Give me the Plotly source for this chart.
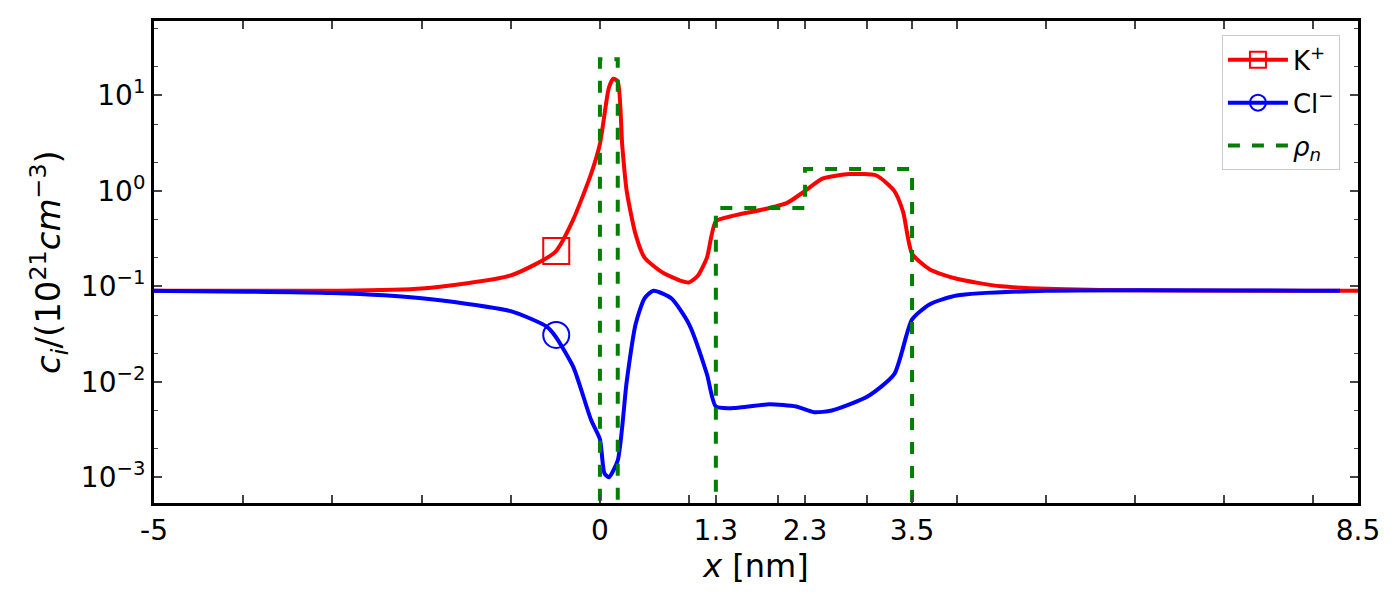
import plotly.graph_objects as go

k_x = [-5,-3,-2,-1,-0.5,-0.3,-0.1,0,0.1,0.15,0.2,0.25,0.3,0.4,0.5,0.7,0.9,1.0,1.1,1.2,1.3,1.5,1.8,2.1,2.3,2.5,2.8,3.1,3.3,3.4,3.5,3.7,4.0,4.5,5.5,8.5]
k_y = [0.09,0.09,0.095,0.13,0.23,0.5,1.5,3.1,12,15,14,3,1,0.35,0.2,0.14,0.115,0.11,0.13,0.2,0.48,0.55,0.63,0.75,1.0,1.35,1.5,1.45,1.0,0.6,0.22,0.15,0.12,0.1,0.092,0.09]
cl_x = [-5,-3,-2,-1,-0.6,-0.5,-0.3,-0.1,0,0.05,0.1,0.2,0.3,0.4,0.5,0.6,0.8,1.0,1.2,1.3,1.5,1.9,2.2,2.4,2.6,3.0,3.3,3.5,3.7,4.0,5,8.3]
cl_y = [0.09,0.085,0.075,0.055,0.038,0.03,0.0144,0.004,0.0025,0.0011,0.001,0.0015,0.01,0.04,0.075,0.09,0.075,0.04,0.012,0.0055,0.0053,0.0058,0.0055,0.0048,0.005,0.007,0.012,0.045,0.065,0.08,0.09,0.09]
rho_x = [0,0,0.2,0.2,1.3,1.3,2.3,2.3,3.5,3.5]
rho_y = [1e-4,24,24,1e-4,1e-4,0.66,0.66,1.7,1.7,1e-4]
marker_x = -0.49
k_marker = 0.235
cl_marker = 0.031
tick_vals = [-5,-4,-3,-2,-1,0,1,1.3,2,2.3,3,3.5,4,5,6,7,8,8.5]
tick_text = ["-5","","","","","0","","1.3","","2.3","","3.5","","","","","","8.5"]

fig = go.Figure()
fig.add_trace(go.Scatter(x=k_x, y=k_y, mode="lines", line=dict(color="red", width=4, shape="spline", smoothing=0.6), legendgroup="k", showlegend=False))
fig.add_trace(go.Scatter(x=[marker_x], y=[k_marker], mode="lines+markers", name="K<sup>+</sup>", legendgroup="k",
    line=dict(color="red", width=4), marker=dict(symbol="square-open", size=26, color="red", line=dict(width=2))))
fig.add_trace(go.Scatter(x=cl_x, y=cl_y, mode="lines", line=dict(color="blue", width=4, shape="spline", smoothing=0.6), legendgroup="cl", showlegend=False))
fig.add_trace(go.Scatter(x=[marker_x], y=[cl_marker], mode="lines+markers", name="Cl<sup>−</sup>", legendgroup="cl",
    line=dict(color="blue", width=4), marker=dict(symbol="circle-open", size=26, color="blue", line=dict(width=2))))
fig.add_trace(go.Scatter(x=rho_x, y=rho_y, mode="lines", name="<i>ρ<sub>n</sub></i>", line=dict(color="green", width=4, dash="dash")))

fig.update_layout(
    width=1400, height=600, plot_bgcolor="white", paper_bgcolor="white",
    margin=dict(l=146, r=50, t=10, b=105),
    font=dict(family="DejaVu Sans", size=26, color="black"),
    legend=dict(x=0.985, y=0.97, xanchor="right", yanchor="top", bordercolor="#cccccc", borderwidth=1,
                font=dict(size=26), bgcolor="white", itemwidth=60, tracegroupgap=6),
    xaxis=dict(range=[-5,8.5], tickmode="array", tickvals=tick_vals, ticktext=tick_text, ticks="inside",
               ticklen=8, tickwidth=2, showgrid=False, zeroline=False, showline=True, linecolor="black",
               linewidth=3, mirror="ticks", tickfont=dict(size=28),
               title=dict(text="<i>x</i> [nm]", font=dict(size=32), standoff=2)),
    yaxis=dict(type="log", range=[-3.27,1.78], tickvals=[1e-3,1e-2,1e-1,1,10],
               ticktext=["10<sup>−3</sup>","10<sup>−2</sup>","10<sup>−1</sup>","10<sup>0</sup>","10<sup>1</sup>"],
               ticks="inside", ticklen=8, tickwidth=2, showgrid=False, zeroline=False, showline=True,
               linecolor="black", linewidth=3, mirror="ticks", tickfont=dict(size=28),
               minor=dict(ticks="inside", ticklen=4, tickwidth=1, showgrid=False),
               title=dict(text="<i>c<sub>i</sub></i>/(10<sup>21</sup><i>cm</i><sup>−3</sup>)", font=dict(size=34), standoff=10)),
)
fig.write_html("out.html")
